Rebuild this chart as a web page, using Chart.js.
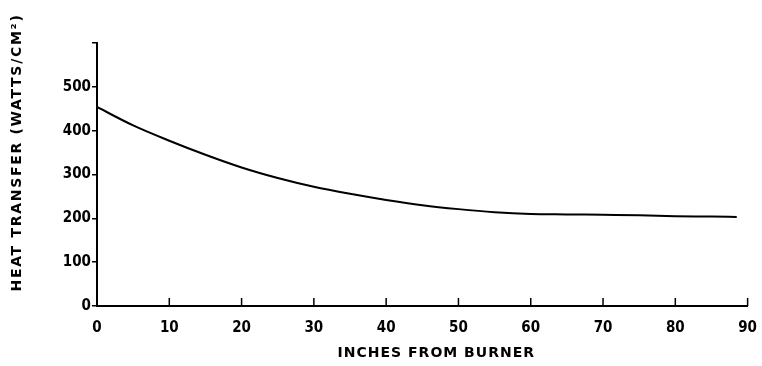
<!DOCTYPE html>
<html>
<head>
<meta charset="utf-8">
<script src="https://cdn.jsdelivr.net/npm/chart.js@4.4.0/dist/chart.umd.min.js"></script>
<style>
  html, body { margin: 0; padding: 0; background: #fff; }
  #wrap { width: 762px; height: 366px; }
</style>
</head>
<body>
<div id="wrap"><canvas id="chart" width="762" height="366"></canvas></div>
<script>
// distance from burner (inches) and heat transfer (W/cm2)
const inches = [0, 5, 10, 15, 20, 25, 30, 35, 40, 45, 50, 55, 60, 65, 70, 75, 80, 85, 88.5];
const heatTransfer = [454, 412, 377, 345, 316, 292, 272, 256, 242, 230, 221, 214, 210, 209, 208, 207, 205, 204, 203];

const xTicks = [0, 10, 20, 30, 40, 50, 60, 70, 80, 90];
const yTicks = [0, 100, 200, 300, 400, 500, 600];

const points = inches.map((x, i) => ({ x: x, y: heatTransfer[i] }));

// x ticks in the original point up into the plot
const innerTicks = {
  id: 'innerTicks',
  afterDraw(chart) {
    const ctx = chart.ctx;
    const xs = chart.scales.x;
    ctx.save();
    ctx.strokeStyle = '#000';
    ctx.lineWidth = 1.5;
    xTicks.forEach(v => {
      const px = xs.getPixelForValue(v);
      ctx.beginPath();
      ctx.moveTo(px, xs.top);
      ctx.lineTo(px, xs.top - 8);
      ctx.stroke();
    });
    ctx.restore();
  }
};

// the hand lettered axis titles are widely spaced and a little off centre
const titleStyle = {
  id: 'titleStyle',
  beforeDraw(chart) {
    ['x', 'y'].forEach(id => {
      const scale = chart.scales[id];
      if (scale._origDrawTitle) return;
      scale._origDrawTitle = scale.drawTitle;
      scale.drawTitle = function () {
        const c = this.ctx;
        c.save();
        if (id === 'y') {
          c.letterSpacing = '1.7px';
          c.translate(0, -22);
        } else {
          c.letterSpacing = '1px';
          c.translate(14, 0);
        }
        this._origDrawTitle.apply(this, arguments);
        c.restore();
      };
    });
  }
};

const ctx = document.getElementById('chart').getContext('2d');

const myChart = new Chart(ctx, {
  type: 'line',
  data: {
    datasets: [{
      data: points,
      borderColor: '#000',
      borderWidth: 2,
      pointRadius: 0,
      fill: false,
      tension: 0.4,
      cubicInterpolationMode: 'monotone'
    }]
  },
  options: {
    responsive: false,
    animation: false,
    layout: { padding: { left: 0, right: 14, top: 43, bottom: 0 } },
    plugins: { legend: { display: false }, tooltip: { enabled: false } },
    scales: {
      x: {
        type: 'linear',
        min: 0,
        max: 90,
        afterBuildTicks(scale) { scale.ticks = xTicks.map(v => ({ value: v })); },
        afterFit(scale) { scale.height = 60; },
        grid: { display: false },
        border: { display: true, color: '#000', width: 2 },
        ticks: {
          color: '#000',
          padding: 5,
          maxRotation: 0,
          autoSkip: false,
          font: { family: 'DejaVu Sans Condensed', size: 15, weight: 'bold' }
        },
        title: {
          display: true,
          text: 'INCHES FROM BURNER',
          color: '#000',
          padding: { top: 15 },
          font: { family: 'DejaVu Sans', size: 14, weight: 'bold' }
        }
      },
      y: {
        min: 0,
        max: 600,
        afterBuildTicks(scale) { scale.ticks = yTicks.map(v => ({ value: v })); },
        afterFit(scale) { scale.width = 97; },
        grid: {
          drawOnChartArea: false,
          drawTicks: true,
          tickLength: 5,
          color: '#000',
          lineWidth: 1.5
        },
        border: { display: true, color: '#000', width: 2 },
        ticks: {
          color: '#000',
          padding: 1,
          autoSkip: false,
          font: { family: 'DejaVu Sans Condensed', size: 15, weight: 'bold' },
          callback: v => (v === 600 ? '' : v)
        },
        title: {
          display: true,
          text: 'HEAT TRANSFER (WATTS/CM²)',
          color: '#000',
          padding: { top: 9, bottom: 0 },
          font: { family: 'DejaVu Sans', size: 14, weight: 'bold' }
        }
      }
    }
  },
  plugins: [titleStyle, innerTicks]
});
</script>
</body>
</html>
